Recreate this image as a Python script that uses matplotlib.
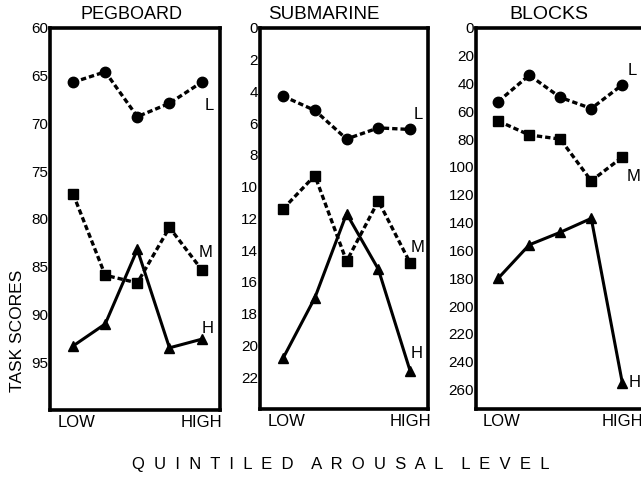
import numpy as np
import matplotlib.pyplot as plt

plt.rcParams['font.family'] = ['Liberation Sans', 'DejaVu Sans']

quintiles = [1, 2, 3, 4, 5]
panels = ["PEGBOARD", "SUBMARINE", "BLOCKS"]

peg_L = [65.7, 64.6, 69.3, 67.9, 65.7]
peg_M = [77.4, 85.9, 86.7, 80.9, 85.3]
peg_H = [93.3, 91.0, 83.2, 93.5, 92.6]

sub_L = [4.3, 5.2, 7.0, 6.3, 6.4]
sub_M = [11.4, 9.3, 14.7, 10.9, 14.8]
sub_H = [20.8, 17.0, 11.7, 15.2, 21.6]

blk_L = [53, 34, 50, 58, 41]
blk_M = [67, 77, 80, 110, 93]
blk_H = [180, 156, 147, 137, 255]

peg_ticks = [60, 65, 70, 75, 80, 85, 90, 95]
sub_ticks = [0, 2, 4, 6, 8, 10, 12, 14, 16, 18, 20, 22]
blk_ticks = [0, 20, 40, 60, 80, 100, 120, 140, 160, 180, 200, 220, 240, 260]

fig = plt.figure(figsize=(6.41, 4.80), dpi=100)

# panel boxes in figure fraction (left, bottom, width, height)
boxes = [(0.078, 0.146, 0.265, 0.796),
         (0.406, 0.148, 0.262, 0.794),
         (0.743, 0.148, 0.265, 0.794)]
series = [(peg_L, peg_M, peg_H), (sub_L, sub_M, sub_H), (blk_L, blk_M, blk_H)]
ticks = [peg_ticks, sub_ticks, blk_ticks]
ylims = [(100, 60), (24, 0), (274, 0)]
xlims = [(0.28, 5.57), (0.28, 5.57), (0.29, 5.77)]
title_x = [0.48, 0.38, 0.43]
title_fs = [13, 13.5, 14]
# label offsets in pixels (L, M, H)
offs = [[(8, -23), (4, 17), (6, 11)],
        [(8, 15), (7, 15), (7, 17)],
        [(10, 14), (11, -19), (12, 0)]]

dash = (0, (1.6, 0.9))
for i in range(3):
    ax = fig.add_axes(boxes[i])
    L, M, H = series[i]
    ax.plot(quintiles, L, color='k', lw=2.4, ls=dash, marker='o', ms=7.5)
    ax.plot(quintiles, M, color='k', lw=2.4, ls=dash, marker='s', ms=7)
    ax.plot(quintiles, H, color='k', lw=2.2, ls='-', marker='^', ms=7)
    for vals, name, off in zip((L, M, H), "LMH", offs[i]):
        ax.annotate(name, (quintiles[-1], vals[-1]), xytext=off,
                    textcoords='offset pixels', fontsize=12, ha='center', va='center')
    ax.set_xlim(*xlims[i])
    ax.set_ylim(*ylims[i])
    ax.set_yticks(ticks[i])
    ax.set_xticks([])
    ax.tick_params(axis='y', length=0, pad=1.5, labelsize=11)
    for s in ax.spines.values():
        s.set_linewidth(2.6)
    ax.text(title_x[i], 1.012, panels[i], transform=ax.transAxes,
            ha='center', va='bottom', fontsize=title_fs[i])
    ax.text(1.1, -0.012, "LOW", transform=ax.get_xaxis_transform(),
            ha='center', va='top', fontsize=12)
    ax.text(5, -0.012, "HIGH", transform=ax.get_xaxis_transform(),
            ha='center', va='top', fontsize=12)

fig.text(0.027, 0.31, "TASK SCORES", rotation=90, ha='center', va='center', fontsize=12.5)
fig.text(0.532, 0.032, "Q  U  I  N  T  I  L  E  D    A  R  O  U  S  A  L    L  E  V  E  L",
         ha='center', va='center', fontsize=12)

plt.savefig('out.png', dpi=100)
